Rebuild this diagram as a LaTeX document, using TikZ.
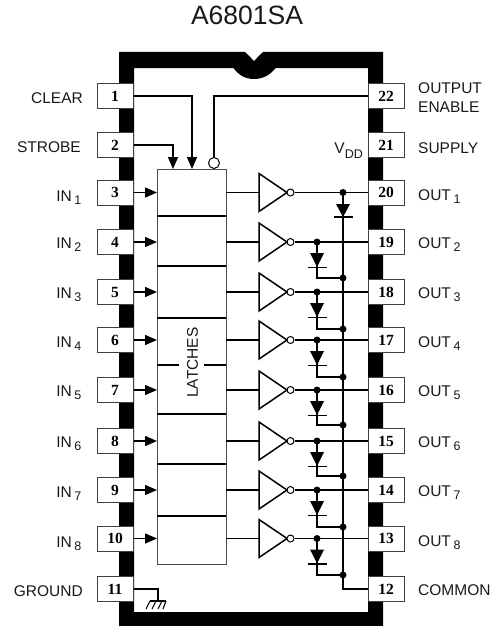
\documentclass[tikz,border=0pt]{standalone}
\usepackage{fontspec}
\setmainfont{Liberation Sans}
\newfontfamily\pinfont{Liberation Serif}
\usetikzlibrary{arrows.meta}
\newcommand{\subs}[2][-3pt]{\raisebox{#1}{\fontsize{12.5}{14}\selectfont #2}}
\tikzset{
  pinbox/.style={draw=black!75,line width=1pt,fill=white,minimum width=36pt,minimum height=25pt,inner sep=0pt,font=\pinfont\bfseries\fontsize{15.5}{16}\selectfont},
  lab/.style={inner sep=0pt,font=\fontsize{15.5}{17}\selectfont,text=black!90},
  wire/.style={line width=1.5pt,black},
  tipa/.style={-{Triangle[length=12pt,width=10pt]}},
  dot/.style={circle,fill=black,inner sep=0pt,minimum size=7pt},
  bub/.style={circle,draw=black,fill=white,line width=1pt,inner sep=0pt},
  inv/.style={draw=black,line width=1.5pt,fill=white,line join=miter},
}
\begin{document}
\begin{tikzpicture}[x=1pt,y=-1pt]
\useasboundingbox (0,0) rectangle (503,626);
% package body
\fill[black,even odd rule] (119,52) rectangle (383,626) (134,68) rectangle (368,612);
\fill[black] (232,66) .. controls (238,75) and (245,79) .. (254,79) .. controls (263,79) and (271,75) .. (277,66) -- cycle;
\fill[white] (245,50) -- (245,52) .. controls (249,55) and (252,59) .. (254,61) .. controls (256,59) and (259,55) .. (263,52) -- (263,50) -- cycle;
\node[font=\fontsize{26.5}{28}\selectfont,inner sep=0pt,anchor=base,text=black!90] (title) at (247,25) {A6801SA};
% pins
\foreach \n/\y in {1/96,2/145,3/192.5,4/242,5/292,6/340,7/390,8/441,9/490,10/538.5,11/589}
  \node[pinbox] (p\n) at (115,\y) {\n};
\foreach \n/\y in {22/96,21/145,20/192.5,19/242,18/292,17/340,16/390,15/441,14/490,13/538.5,12/589}
  \node[pinbox] (p\n) at (386,\y) {\n};
% left labels
\node[lab,anchor=base east] (lclear) at (83,103) {CLEAR};
\node[lab,anchor=base east] (lstrobe) at (81,152) {STROBE};
\foreach \i/\y in {1/201,2/248,3/298,4/347,5/396,6/447,7/497,8/547}
  \node[lab,anchor=base east] (lin\i) at (81.5,\y) {IN\,\subs{\i}};
\node[lab,anchor=base east] (lgnd) at (83,596) {GROUND};
% right labels
\node[lab,anchor=base west] (loe) at (418,93) {OUTPUT};
\node[lab,anchor=base west] (loe2) at (418,112) {ENABLE};
\node[lab,anchor=base west] (lsup) at (418,153) {SUPPLY};
\node[lab,anchor=base east] (lvdd) at (363,153) {V\subs[-5pt]{DD}};
\foreach \i/\y in {1/200,2/248,3/298,4/347,5/396,6/447,7/496,8/546}
  \node[lab,anchor=base west] (lout\i) at (418,\y) {OUT\,\subs{\i}};
\node[lab,anchor=base west] (lcom) at (418,595) {COMMON};
% latches
\node[draw=black!70,line width=1pt,fill=white,minimum width=69pt,minimum height=395pt,inner sep=0pt] (latch) at (191.5,366.5) {};
\foreach \y in {216,266,318,414,464,516}
  \draw[wire] (157,\y) -- (226,\y);
\draw[wire] (157,365) -- (179,365);
\draw[wire] (204,365) -- (226,365);
\node[lab,rotate=90] (ltxt) at (192.5,362.5) {LATCHES};
% control lines
\coordinate (cl) at (192,169);
\coordinate (st) at (173,169);
\draw[wire,tipa] (p1.east) -- (192,96) -- (cl);
\draw[wire,tipa] (p2.east) -- (173,145) -- (st);
\node[bub,minimum size=11pt] (oe) at (214,163) {};
\draw[wire] (p22.west) -- (214,96) -- (oe.north);
% input arrows
\foreach \n/\y in {3/192.5,4/242,5/292,6/340,7/390,8/441,9/490,10/538.5}{
  \coordinate (in\n) at (157,\y);
  \draw[wire,tipa] (p\n.east) -- (in\n);
}
% output channels
\foreach \n/\y in {20/192.5,19/242,18/292,17/340,16/390,15/441,14/490,13/538.5}{
  \coordinate (la\n) at (226,\y);
  \coordinate (ti\n) at (259,\y);
  \draw[wire] (la\n) -- (ti\n);
  \draw[inv] (259,\y-19) -- (287,\y) -- (259,\y+19) -- cycle;
  \node[bub,minimum size=7pt] (b\n) at (290.5,\y) {};
  \draw[wire] (b\n.east) -- (p\n.west);
}
% common rail
\coordinate (rail) at (343,589);
\node[dot] (d20) at (343,192.5) {};
\draw[wire] (d20.center) -- (rail) -- (p12.west);
% diode on pin 20
\fill[black] (336,204) -- (350,204) -- (343,217) -- cycle;
\draw[wire] (334,217) -- (353,217);
% diodes on other outputs
\foreach \n/\y/\d in {19/242/278,18/292/329,17/340/377,16/390/425,15/441/476,14/490/527,13/538.5/575}{
  \node[dot] (a\n) at (317,\y) {};
  \node[dot] (c\n) at (343,\d) {};
  \fill[black] (310,\y+11) -- (324,\y+11) -- (317,\y+25) -- cycle;
  \draw[wire] (307.5,\y+25.5) -- (326.5,\y+25.5);
  \draw[wire] (a\n.center) -- (317,\d) -- (c\n.center);
}
% ground
\coordinate (g) at (158,601);
\draw[wire] (p11.east) -- (158,589) -- (g);
\draw[wire] (150,601) -- (166,601);
\draw[line width=1.1pt] (150,601) -- (146,609) (156,601) -- (152,609) (162,601) -- (158,609) (166,601) -- (163,609);
\end{tikzpicture}
\end{document}
